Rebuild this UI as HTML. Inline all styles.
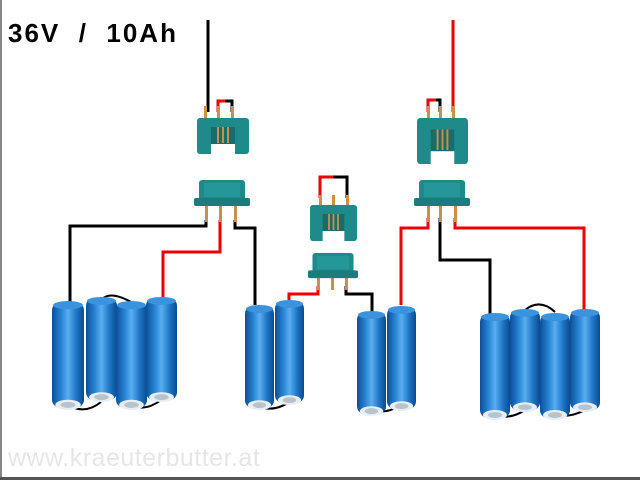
<!DOCTYPE html>
<html><head><style>
html,body{margin:0;padding:0;background:#fff;width:640px;height:480px;overflow:hidden}
</style></head><body>
<svg width="640" height="480" viewBox="0 0 640 480" xmlns="http://www.w3.org/2000/svg">
<defs>
<linearGradient id="bg" x1="0" x2="1" y1="0" y2="0">
<stop offset="0" stop-color="#0c4f9a"/><stop offset="0.3" stop-color="#2a86d6"/><stop offset="0.5" stop-color="#5aaef0"/><stop offset="0.75" stop-color="#1f78c8"/><stop offset="1" stop-color="#0a4a90"/></linearGradient>
<symbol id="bat" viewBox="0 0 30 110" preserveAspectRatio="none">
<rect x="0" y="2" width="30" height="104" rx="8" fill="url(#bg)"/>
<ellipse cx="15" cy="5" rx="14" ry="4" fill="#3b93dd"/>
<ellipse cx="15" cy="103" rx="12" ry="5" fill="#e8eef5"/>
<ellipse cx="15" cy="103" rx="7" ry="3" fill="#b9c3cc"/>
</symbol>
<symbol id="fem" viewBox="0 0 52 36" preserveAspectRatio="none">
<rect x="0" y="0" width="52" height="36" rx="3" fill="#1f8a8a"/>
<rect x="14" y="9" width="24" height="17" fill="#186c6c"/>
<rect x="20" y="9" width="2" height="16" fill="#c8904a"/><rect x="25" y="9" width="2" height="16" fill="#c8904a"/><rect x="30" y="9" width="2" height="16" fill="#c8904a"/>
<rect x="14" y="26" width="24" height="10" fill="#fff"/>
</symbol>
<symbol id="male" viewBox="0 0 56 28" preserveAspectRatio="none">
<rect x="5" y="0" width="46" height="22" rx="3" fill="#1f8a8a"/>
<rect x="0" y="18" width="56" height="8" rx="2" fill="#1a7d7d"/>
<rect x="10" y="3" width="36" height="14" fill="#25979a"/>
</symbol>
</defs>
<rect x="0" y="0" width="640" height="480" fill="#fff"/>
<rect x="0" y="0" width="2" height="480" fill="#888"/>
<rect x="0" y="477" width="640" height="3" fill="#555"/>
<text x="8" y="42" font-family="Liberation Sans, sans-serif" font-weight="bold" font-size="26" fill="#000" letter-spacing="2" xml:space="preserve">36V  /  10Ah</text>
<text x="8" y="466" font-family="Liberation Sans, sans-serif" font-size="25" fill="#e6e6e6" letter-spacing="0.5">www.kraeuterbutter.at</text>

<g fill="none" stroke-width="3">
<path d="M208 20V112" stroke="#000"/>
<path d="M218 112V101H225" stroke="#e00"/><path d="M225 101H232V112" stroke="#000"/>
<path d="M206 220V226H70V310" stroke="#000"/>
<path d="M220 220V252H163V297" stroke="#e00"/>
<path d="M235 220V228H255V305" stroke="#000"/>
<path d="M320 198V177H333" stroke="#e00"/><path d="M333 177H347V198" stroke="#000"/>
<path d="M318 286V294H289V305" stroke="#e00"/>
<path d="M346 286V294H372V312" stroke="#000"/>
<path d="M453 20V112" stroke="#e00"/>
<path d="M428 112V100H436" stroke="#e00"/><path d="M436 100H440V112" stroke="#000"/>
<path d="M428 218V228H401V305" stroke="#e00"/>
<path d="M440 218V260H490V315" stroke="#000"/>
<path d="M455 218V228H584V310" stroke="#e00"/>
<path d="M101 300Q110 290 131 302" stroke="#000" stroke-width="2"/>
<path d="M68 405Q85 415 101 402M131 405Q145 412 161 400" stroke="#000" stroke-width="2"/>
<path d="M259 407Q275 412 289 402M371 410Q385 415 401 405" stroke="#000" stroke-width="2"/>
<path d="M525 310Q540 298 555 312M495 415Q510 420 525 410M555 415Q570 418 585 410" stroke="#000" stroke-width="2"/>
</g>
<g fill="#c8904a">
<rect x="204" y="106" width="3" height="13"/><rect x="217" y="106" width="3" height="13"/><rect x="231" y="106" width="3" height="13"/>
<rect x="205" y="206" width="3" height="16"/><rect x="219" y="206" width="3" height="16"/><rect x="234" y="206" width="3" height="16"/>
<rect x="319" y="195" width="3" height="12"/><rect x="332" y="195" width="3" height="12"/><rect x="346" y="195" width="3" height="12"/>
<rect x="317" y="278" width="3" height="12"/><rect x="331" y="278" width="3" height="12"/><rect x="345" y="278" width="3" height="12"/>
<rect x="427" y="106" width="3" height="13"/><rect x="439" y="106" width="3" height="13"/><rect x="452" y="106" width="3" height="13"/>
<rect x="427" y="206" width="3" height="16"/><rect x="439" y="206" width="3" height="16"/><rect x="454" y="206" width="3" height="16"/>
</g>
<use href="#fem" x="197" y="118" width="52" height="36"/>
<use href="#male" x="194" y="180" width="56" height="28"/>
<use href="#fem" x="310" y="205" width="47" height="36"/>
<use href="#male" x="308" y="253" width="50" height="27"/>
<use href="#fem" x="417" y="118" width="51" height="46"/>
<use href="#male" x="414" y="180" width="56" height="28"/>

<use href="#bat" x="52" y="300" width="32" height="112"/>
<use href="#bat" x="86" y="296" width="31" height="108"/>
<use href="#bat" x="116" y="300" width="31" height="112"/>
<use href="#bat" x="146" y="296" width="31" height="108"/>
<use href="#bat" x="245" y="304" width="29" height="108"/>
<use href="#bat" x="275" y="299" width="29" height="108"/>
<use href="#bat" x="357" y="310" width="29" height="108"/>
<use href="#bat" x="387" y="305" width="29" height="108"/>
<use href="#bat" x="480" y="312" width="30" height="110"/>
<use href="#bat" x="510" y="308" width="30" height="106"/>
<use href="#bat" x="540" y="312" width="30" height="110"/>
<use href="#bat" x="570" y="308" width="30" height="106"/>
</svg>
</body></html>
